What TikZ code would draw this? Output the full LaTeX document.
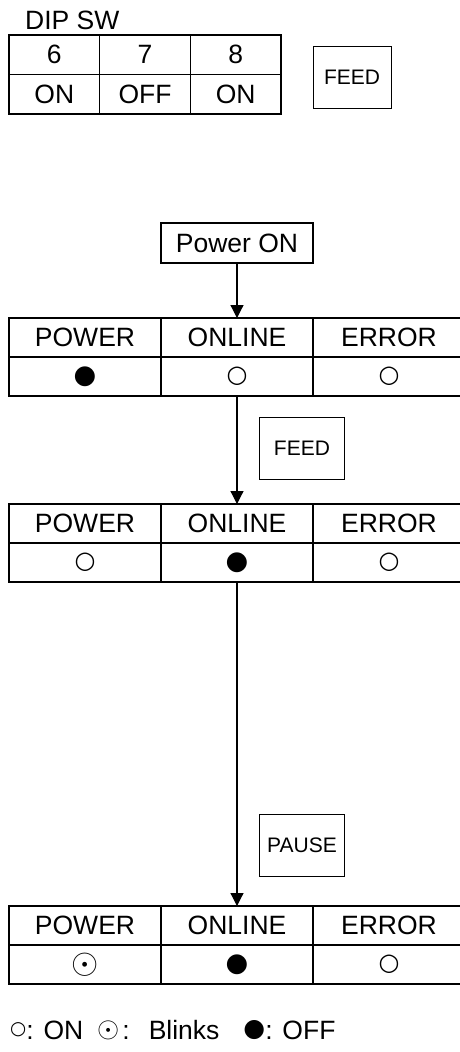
\documentclass[tikz,border=0pt]{standalone}
\usepackage{fontspec}
\setmainfont{Liberation Sans}
\newfontfamily\symfont{DejaVu Sans}
\usepackage{graphicx}
\usepackage{tikz}
\usetikzlibrary{arrows.meta,positioning}

\newcommand{\ledon}{{\symfont\fontsize{24}{26}\selectfont ○}}
\newcommand{\ledblink}{{\fontsize{10}{12}\selectfont\scalebox{3.5}{$\odot$}}}
\newcommand{\ledoff}{{\symfont\fontsize{26}{28}\selectfont ●}}
\newcommand{\legsym}[2]{\raisebox{\dimexpr 9.5pt-0.5\height+0.5\depth\relax}{\symfont\fontsize{#1}{#1}\selectfont #2}}

\begin{document}
\begin{tikzpicture}[x=1pt,y=-1pt,node distance=0pt, cell/.style={draw,line width=1.5pt,minimum width=152pt,minimum height=39pt,inner sep=0pt,outer sep=0pt,font=\fontsize{26.5}{29}\selectfont}, dip/.style={cell,minimum width=90.7pt,minimum height=39.5pt}, key/.style={draw,line width=1pt,minimum height=62pt,inner sep=0pt,font=\fontsize{21}{23}\selectfont}, arr/.style={-{Triangle[length=13pt,width=13pt]},line width=1.2pt}]
\useasboundingbox (0,0) rectangle (460,1052);
% DIP switch setting
\node[anchor=south west,inner sep=0pt,font=\fontsize{26.5}{29}\selectfont] (dipsw) at (25,30) {DIP SW};
\node[dip] (d6) at (54.35,54.75) {6};
\node[dip,right=of d6] (d7) {7};
\node[dip,right=of d7] (d8) {8};
\node[dip,below=of d6] (s6) {ON};
\node[dip,below=of d7] (s7) {OFF};
\node[dip,below=of d8] (s8) {ON};
\node[key,minimum width=78pt] (feedkey) at (352,77) {FEED};
% lamp tables
\node[cell] (p1) at (85,337.5) {POWER};
\node[cell,right=of p1] (o1) {ONLINE};
\node[cell,right=of o1] (e1) {ERROR};
\node[cell,below=of p1] (lp1) {\ledoff};
\node[cell,below=of o1] (lo1) {\ledon};
\node[cell,below=of e1] (le1) {\ledon};
\node[cell,below=108pt of lp1] (p2) {POWER};
\node[cell,right=of p2] (o2) {ONLINE};
\node[cell,right=of o2] (e2) {ERROR};
\node[cell,below=of p2] (lp2) {\ledon};
\node[cell,below=of o2] (lo2) {\ledoff};
\node[cell,below=of e2] (le2) {\ledon};
\node[cell,below=324pt of lp2] (p3) {POWER};
\node[cell,right=of p3] (o3) {ONLINE};
\node[cell,right=of o3] (e3) {ERROR};
\node[cell,below=of p3] (lp3) {\ledblink};
\node[cell,below=of o3] (lo3) {\ledoff};
\node[cell,below=of e3] (le3) {\ledon};
\node[cell,minimum height=40pt,above=55pt of o1] (poweron) {Power ON};
\node[key,minimum width=85pt,below right=21pt and 22pt of lo1.south] (feed) {FEED};
\node[key,minimum width=85pt,below right=232pt and 22pt of lo2.south] (pause) {PAUSE};
\draw[arr] (poweron)--(o1);
\draw[arr] (lo1)--(o2);
\draw[arr] (lo2)--(o3);
% legend
\node[anchor=west,inner sep=0pt,font=\fontsize{26.5}{29}\selectfont] (legend) at (10,1030) {\legsym{18.5}{○}: ON\hspace{14pt}\legsym{10}{\scalebox{2.85}{$\odot$}}\hspace{3pt}:\hspace{19pt}Blinks\hspace{24pt}\legsym{25}{●}: OFF};
\end{tikzpicture}
\end{document}
